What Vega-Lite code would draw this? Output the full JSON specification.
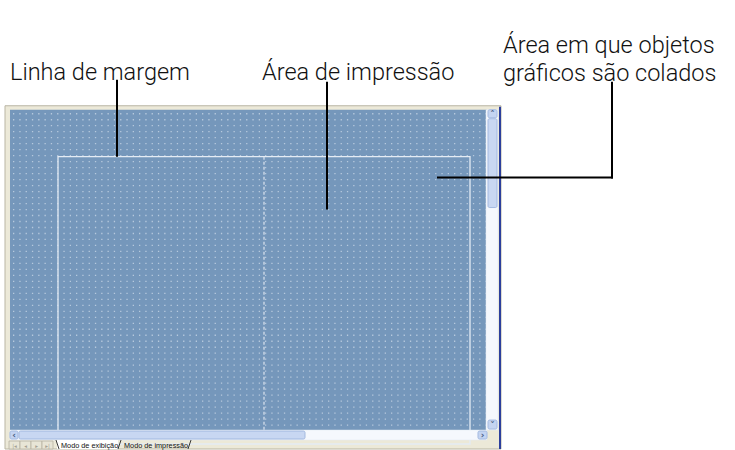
{
  "$schema": "https://vega.github.io/schema/vega-lite/v6.json",
  "width": 735,
  "height": 450,
  "autosize": {"type": "fit", "contains": "padding"},
  "padding": 0,
  "background": "#ffffff",
  "config": {"view": {"stroke": null}},
  "datasets": {
    "frame": [{"x": 5, "x2": 501, "y": 106, "y2": 450}],
    "canvas": [{"x": 10, "x2": 487, "y": 110, "y2": 431}],
    "dots": [
      {"x": 13, "x2": 486, "y": 114}, {"x": 13, "x2": 486, "y": 120}, {"x": 13, "x2": 486, "y": 126}, {"x": 13, "x2": 486, "y": 132},
      {"x": 13, "x2": 486, "y": 138}, {"x": 13, "x2": 486, "y": 144}, {"x": 13, "x2": 486, "y": 150}, {"x": 13, "x2": 486, "y": 156},
      {"x": 13, "x2": 486, "y": 162}, {"x": 13, "x2": 486, "y": 168}, {"x": 13, "x2": 486, "y": 174}, {"x": 13, "x2": 486, "y": 180},
      {"x": 13, "x2": 486, "y": 186}, {"x": 13, "x2": 486, "y": 192}, {"x": 13, "x2": 486, "y": 198}, {"x": 13, "x2": 486, "y": 204},
      {"x": 13, "x2": 486, "y": 210}, {"x": 13, "x2": 486, "y": 216}, {"x": 13, "x2": 486, "y": 222}, {"x": 13, "x2": 486, "y": 228},
      {"x": 13, "x2": 486, "y": 234}, {"x": 13, "x2": 486, "y": 240}, {"x": 13, "x2": 486, "y": 246}, {"x": 13, "x2": 486, "y": 252},
      {"x": 13, "x2": 486, "y": 258}, {"x": 13, "x2": 486, "y": 264}, {"x": 13, "x2": 486, "y": 270}, {"x": 13, "x2": 486, "y": 276},
      {"x": 13, "x2": 486, "y": 282}, {"x": 13, "x2": 486, "y": 288}, {"x": 13, "x2": 486, "y": 294}, {"x": 13, "x2": 486, "y": 300},
      {"x": 13, "x2": 486, "y": 306}, {"x": 13, "x2": 486, "y": 312}, {"x": 13, "x2": 486, "y": 318}, {"x": 13, "x2": 486, "y": 324},
      {"x": 13, "x2": 486, "y": 330}, {"x": 13, "x2": 486, "y": 336}, {"x": 13, "x2": 486, "y": 342}, {"x": 13, "x2": 486, "y": 348},
      {"x": 13, "x2": 486, "y": 354}, {"x": 13, "x2": 486, "y": 360}, {"x": 13, "x2": 486, "y": 366}, {"x": 13, "x2": 486, "y": 372},
      {"x": 13, "x2": 486, "y": 378}, {"x": 13, "x2": 486, "y": 384}, {"x": 13, "x2": 486, "y": 390}, {"x": 13, "x2": 486, "y": 396},
      {"x": 13, "x2": 486, "y": 402}, {"x": 13, "x2": 486, "y": 408}, {"x": 13, "x2": 486, "y": 414}, {"x": 13, "x2": 486, "y": 420},
      {"x": 13, "x2": 486, "y": 426}
    ],
    "margin": [{"x": 58, "x2": 470, "y": 157, "y2": 445}],
    "printsplit": [{"x": 264, "x2": 264, "y": 157, "y2": 431}],
    "tracks": [
      {"x": 486, "x2": 498, "y": 110, "y2": 431},
      {"x": 10, "x2": 487, "y": 431, "y2": 441}
    ],
    "thumbs": [
      {"x": 488, "x2": 497, "y": 119, "y2": 208},
      {"x": 19, "x2": 305, "y": 432, "y2": 440}
    ],
    "buttons": [
      {"x": 488, "x2": 497, "y": 110, "y2": 118},
      {"x": 488, "x2": 497, "y": 421, "y2": 430},
      {"x": 10, "x2": 18, "y": 432, "y2": 440},
      {"x": 478, "x2": 487, "y": 432, "y2": 440}
    ],
    "arrows": [
      {"x": 492.5, "y": 117, "label": "˄"},
      {"x": 492.5, "y": 429, "label": "˅"},
      {"x": 14, "y": 439, "label": "‹"},
      {"x": 482.5, "y": 439, "label": "›"}
    ],
    "border": [{"x": 499, "x2": 501, "y": 107, "y2": 450}],
    "navs": [
      {"x": 9, "x2": 20, "y": 442, "y2": 450},
      {"x": 20, "x2": 31, "y": 442, "y2": 450},
      {"x": 31, "x2": 42, "y": 442, "y2": 450},
      {"x": 42, "x2": 53, "y": 442, "y2": 450}
    ],
    "navglyphs": [
      {"x": 14.5, "y": 449, "label": "|◂"},
      {"x": 25.5, "y": 449, "label": "◂"},
      {"x": 36.5, "y": 449, "label": "▸"},
      {"x": 47.5, "y": 449, "label": "▸|"}
    ],
    "activetab": [{"x": 57, "x2": 118, "y": 441, "y2": 450}],
    "tabedges": [
      {"x": 56, "x2": 59, "y": 441, "y2": 450},
      {"x": 121, "x2": 118, "y": 441, "y2": 450},
      {"x": 191, "x2": 188, "y": 441, "y2": 450}
    ],
    "tabs": [
      {"x": 61, "y": 449, "label": "Modo de exibição"},
      {"x": 124, "y": 449, "label": "Modo de impressão"}
    ],
    "leaders": [
      {"x": 117, "x2": 117, "y": 80, "y2": 157},
      {"x": 327, "x2": 327, "y": 82, "y2": 210},
      {"x": 612, "x2": 612, "y": 82, "y2": 179},
      {"x": 437, "x2": 613, "y": 178, "y2": 178}
    ],
    "labels": [
      {"x": 10, "y": 80, "label": "Linha de margem"},
      {"x": 262, "y": 80, "label": "Área de impressão"},
      {"x": 503, "y": 53, "label": "Área em que objetos\ngráficos são colados"}
    ]
  },
  "encoding": {
    "x": {"field": "x", "type": "quantitative", "scale": {"domain": [0, 735], "nice": false, "zero": false}, "axis": null},
    "y": {"field": "y", "type": "quantitative", "scale": {"domain": [0, 450], "nice": false, "zero": false, "reverse": true}, "axis": null}
  },
  "layer": [
    {
      "data": {"name": "frame"},
      "mark": {"type": "rect", "fill": "#ECE9D8", "stroke": "#B9B5A3", "strokeWidth": 1},
      "encoding": {"x2": {"field": "x2"}, "y2": {"field": "y2"}}
    },
    {
      "data": {"name": "canvas"},
      "mark": {"type": "rect", "fill": "#7597BB"},
      "encoding": {"x2": {"field": "x2"}, "y2": {"field": "y2"}}
    },
    {
      "data": {"name": "dots"},
      "mark": {"type": "rule", "stroke": "#CCD9E8", "strokeWidth": 1.3, "strokeDash": [1.3, 5], "opacity": 0.75},
      "encoding": {"x2": {"field": "x2"}}
    },
    {
      "data": {"name": "margin"},
      "mark": {"type": "rect", "fillOpacity": 0, "stroke": "#E4EBF4", "strokeWidth": 1.3},
      "encoding": {"x2": {"field": "x2"}, "y2": {"field": "y2"}}
    },
    {
      "data": {"name": "printsplit"},
      "mark": {"type": "rule", "stroke": "#DCE5F0", "strokeWidth": 1.2, "strokeDash": [3, 2]},
      "encoding": {"x2": {"field": "x2"}, "y2": {"field": "y2"}}
    },
    {
      "data": {"name": "tracks"},
      "mark": {"type": "rect", "fill": "#F5F8FD", "stroke": "#E3E8F1", "strokeWidth": 0.5},
      "encoding": {"x2": {"field": "x2"}, "y2": {"field": "y2"}}
    },
    {
      "data": {"name": "thumbs"},
      "mark": {"type": "rect", "fill": "#C8D7F2", "stroke": "#A3B9E0", "strokeWidth": 1, "cornerRadius": 1.5},
      "encoding": {"x2": {"field": "x2"}, "y2": {"field": "y2"}}
    },
    {
      "data": {"name": "buttons"},
      "mark": {"type": "rect", "fill": "#C4D4F1", "stroke": "#A3B9E0", "strokeWidth": 1, "cornerRadius": 1.5},
      "encoding": {"x2": {"field": "x2"}, "y2": {"field": "y2"}}
    },
    {
      "data": {"name": "arrows"},
      "mark": {"type": "text", "font": "DejaVu Sans", "fontSize": 9, "fontWeight": "bold", "color": "#4A5F86", "align": "center", "baseline": "alphabetic"},
      "encoding": {"text": {"field": "label"}}
    },
    {
      "data": {"name": "border"},
      "mark": {"type": "rect", "fill": "#2C3F9C"},
      "encoding": {"x2": {"field": "x2"}, "y2": {"field": "y2"}}
    },
    {
      "data": {"name": "navs"},
      "mark": {"type": "rect", "fill": "#E8E5D6", "stroke": "#B7B3A2", "strokeWidth": 0.8},
      "encoding": {"x2": {"field": "x2"}, "y2": {"field": "y2"}}
    },
    {
      "data": {"name": "navglyphs"},
      "mark": {"type": "text", "font": "DejaVu Sans", "fontSize": 5.5, "color": "#A5A293", "align": "center", "baseline": "alphabetic"},
      "encoding": {"text": {"field": "label"}}
    },
    {
      "data": {"name": "activetab"},
      "mark": {"type": "rect", "fill": "#FFFFFF"},
      "encoding": {"x2": {"field": "x2"}, "y2": {"field": "y2"}}
    },
    {
      "data": {"name": "tabedges"},
      "mark": {"type": "rule", "stroke": "#222222", "strokeWidth": 0.9},
      "encoding": {"x2": {"field": "x2"}, "y2": {"field": "y2"}}
    },
    {
      "data": {"name": "tabs"},
      "mark": {"type": "text", "font": "Liberation Sans", "fontSize": 7.3, "color": "#111111", "align": "left", "baseline": "alphabetic"},
      "encoding": {"text": {"field": "label"}}
    },
    {
      "data": {"name": "leaders"},
      "mark": {"type": "rule", "stroke": "#000000", "strokeWidth": 2},
      "encoding": {"x2": {"field": "x2"}, "y2": {"field": "y2"}}
    },
    {
      "data": {"name": "labels"},
      "mark": {"type": "text", "font": "Roboto", "fontWeight": 300, "fontSize": 23.5, "lineBreak": "\n", "lineHeight": 28, "color": "#111111", "align": "left", "baseline": "alphabetic"},
      "encoding": {"text": {"field": "label"}}
    }
  ]
}
